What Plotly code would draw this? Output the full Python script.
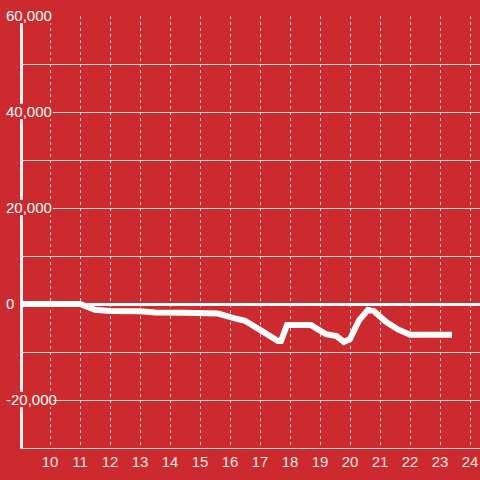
import plotly.graph_objects as go

# Data
hours = [9, 11, 11.5, 12, 13, 13.5, 14.5, 15, 15.6, 16.1, 16.5, 17.0, 17.6, 17.7,
         17.9, 18.7, 19.0, 19.2, 19.55, 19.8, 20.0, 20.3, 20.6, 20.8, 21.2, 21.6,
         22.0, 23.4]
values = [0, 0, -1200, -1450, -1500, -1750, -1800, -1900, -2000, -2900, -3500,
          -5400, -7700, -7700, -4400, -4400, -5400, -6300, -6700, -7900, -7300,
          -3400, -1200, -1500, -3700, -5300, -6400, -6400]

x_ticks = list(range(10, 25))
x_tick_labels = [str(v) for v in x_ticks]
y_ticks = [-20000, 0, 20000, 40000, 60000]
y_tick_labels = ["-20,000", "0", "20,000", "40,000", "60,000"]

RED = "#cc2a2f"
GRID = "#d4d4d4"
TXT = "#f3e6e6"

fig = go.Figure()
fig.add_trace(go.Scatter(x=hours, y=values, mode="lines",
                         line=dict(color="white", width=6), hoverinfo="skip"))

x_min, x_max = 9, 24 + 1 / 3
y_min, y_max = -30000, 60000

shapes = []
# left axis line (drawn below grid so label boxes can interrupt it)
shapes.append(dict(type="line", xref="x", yref="y", x0=9.05, x1=9.05,
                   y0=y_min, y1=y_max, line=dict(color="#f2f2f2", width=3),
                   layer="below"))
# red backgrounds behind the y tick labels
for v, lab in zip(y_ticks, y_tick_labels):
    if v == 0:
        continue
    shapes.append(dict(type="rect", xref="x", yref="y", x0=8.5, x1=10.1,
                       y0=v - 1500, y1=v + 1700, fillcolor=RED,
                       line=dict(width=0), layer="between"))

fig.update_layout(
    width=480, height=480,
    paper_bgcolor=RED, plot_bgcolor=RED,
    margin=dict(l=20, r=0, t=16, b=32, autoexpand=False),
    showlegend=False,
    font=dict(family="Liberation Sans, Arial, sans-serif", size=15, color=TXT),
    shapes=shapes,
    xaxis=dict(range=[x_min, x_max], tickvals=x_ticks, ticktext=x_tick_labels,
               showgrid=True, gridcolor=GRID, gridwidth=1, griddash="dot",
               showline=True, linecolor=GRID, linewidth=1, ticks="",
               zeroline=False, automargin=False, fixedrange=True),
    yaxis=dict(range=[y_min, y_max], tickvals=y_ticks, ticktext=y_tick_labels,
               showgrid=True, gridcolor=GRID, gridwidth=1,
               minor=dict(dtick=10000, tick0=0, showgrid=True, gridcolor=GRID,
                          gridwidth=1),
               zeroline=True, zerolinecolor="white", zerolinewidth=3,
               showline=False, ticks="", ticklabelposition="inside",
               ticklabelstandoff=-17, ticklabeloverflow="allow",
               automargin=False, fixedrange=True),
)

fig.write_html("out.html", config={"displayModeBar": False},
               post_script="document.body.style.margin='0';"
                           "document.body.style.background='" + RED + "';")
